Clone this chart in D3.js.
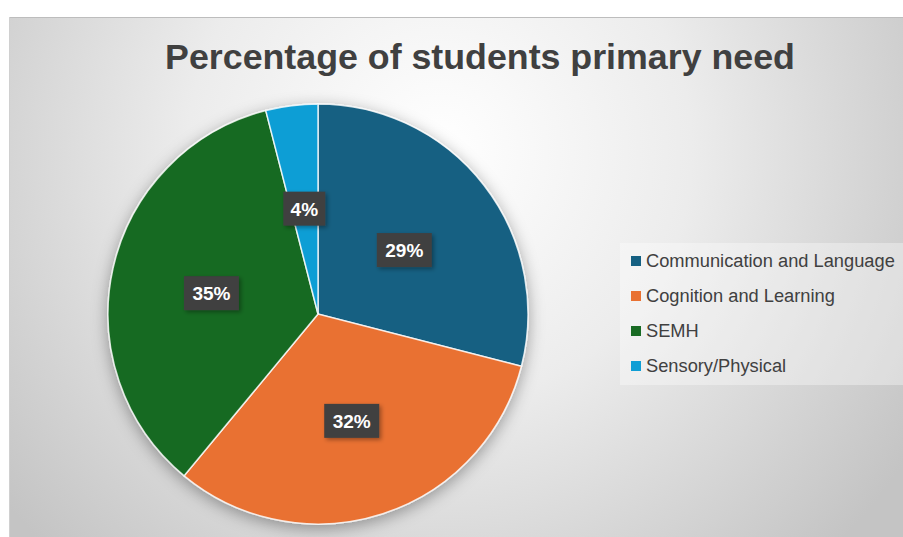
<!DOCTYPE html>
<head>
<meta charset="utf-8">
<title>Percentage of students primary need</title>
<script src="https://cdn.jsdelivr.net/npm/d3@7"></script>
<style>
body { margin: 0; background: #fff; }
text { font-family: "Liberation Sans", Arial, sans-serif; }
</style>
</head>
<body>
<script>
// data
var categories = ["Communication and Language", "Cognition and Learning", "SEMH", "Sensory/Physical"];
var values = [29, 32, 35, 4];
var colours = ["#156082", "#E97132", "#196B24", "#0F9ED5"];
var title = "Percentage of students primary need";

var width = 903, height = 537;
var cx = 318, cy = 314, r = 210;

var svg = d3.select("body").append("svg")
  .attr("width", width)
  .attr("height", height);

var defs = svg.append("defs");
var bg = defs.append("radialGradient").attr("id", "bg")
  .attr("gradientUnits", "userSpaceOnUse")
  .attr("cx", 440).attr("cy", 150).attr("r", 560);
bg.append("stop").attr("offset", "0%").attr("stop-color", "#ffffff");
bg.append("stop").attr("offset", "45%").attr("stop-color", "#ececec");
bg.append("stop").attr("offset", "100%").attr("stop-color", "#c4c4c4");

var sh = defs.append("filter").attr("id", "pieshadow")
  .attr("x", "-20%").attr("y", "-20%").attr("width", "140%").attr("height", "140%");
sh.append("feDropShadow").attr("dx", 0).attr("dy", 4).attr("stdDeviation", 8)
  .attr("flood-color", "#000").attr("flood-opacity", 0.35);

var lsh = defs.append("filter").attr("id", "lblshadow")
  .attr("x", "-30%").attr("y", "-30%").attr("width", "160%").attr("height", "160%");
lsh.append("feDropShadow").attr("dx", 2).attr("dy", 2).attr("stdDeviation", 2)
  .attr("flood-color", "#000").attr("flood-opacity", 0.35);

// chart area
svg.append("rect")
  .attr("x", 9).attr("y", 17)
  .attr("width", width - 9).attr("height", height - 17)
  .attr("fill", "url(#bg)");
svg.append("line")
  .attr("x1", 9).attr("x2", width).attr("y1", 17.5).attr("y2", 17.5)
  .attr("stroke", "#bdbdbd").attr("stroke-width", 1);
svg.append("line")
  .attr("x1", 9.5).attr("x2", 9.5).attr("y1", 17).attr("y2", height)
  .attr("stroke", "#d0d0d0").attr("stroke-width", 1);

// title
var t = svg.append("text")
  .attr("x", 480).attr("y", 69)
  .attr("text-anchor", "middle")
  .attr("fill", "#404040")
  .attr("font-weight", "bold")
  .attr("font-size", 34)
  .text(title);
var tw = t.node().getComputedTextLength();
t.attr("font-size", 34 * 630 / tw);

// pie
var pie = d3.pie().sort(null).value(function(d) { return d; });
var arcs = pie(values);
var arc = d3.arc().innerRadius(0).outerRadius(r);
var labelArc = d3.arc().innerRadius(r * 0.52).outerRadius(r * 0.52);

var g = svg.append("g").attr("transform", "translate(" + cx + "," + cy + ")");
g.append("g").attr("filter", "url(#pieshadow)")
  .selectAll("path")
  .data(arcs).enter().append("path")
  .attr("d", arc)
  .attr("fill", function(d, i) { return colours[i]; })
  .attr("stroke", "#ffffff")
  .attr("stroke-width", 1.5)
  .attr("stroke-opacity", 0.8);

// data labels
var total = d3.sum(values);
var lbl = g.selectAll("g.lbl")
  .data(arcs).enter().append("g")
  .attr("class", "lbl")
  .attr("transform", function(d) { var c = labelArc.centroid(d); return "translate(" + c[0] + "," + (c[1] + 3) + ")"; });
lbl.each(function(d) {
  var sel = d3.select(this);
  var txt = Math.round(d.data / total * 100) + "%";
  var w = txt.length == 2 ? 42 : 55;
  sel.append("rect")
    .attr("x", -w / 2).attr("y", -17)
    .attr("width", w).attr("height", 34)
    .attr("fill", "#3f3f3f")
    .attr("filter", "url(#lblshadow)");
  sel.append("text")
    .attr("text-anchor", "middle")
    .attr("y", 7)
    .attr("fill", "#ffffff")
    .attr("font-weight", "bold")
    .attr("font-size", 19)
    .text(txt);
});

// legend
var leg = svg.append("g");
leg.append("rect")
  .attr("x", 620).attr("y", 243)
  .attr("width", width - 620).attr("height", 142)
  .attr("fill", "#ffffff").attr("fill-opacity", 0.35);
var ly = d3.scalePoint().domain(categories).range([261, 366]);
var item = leg.selectAll("g.item")
  .data(categories).enter().append("g")
  .attr("class", "item")
  .attr("transform", function(d) { return "translate(631," + ly(d) + ")"; });
item.append("rect")
  .attr("x", 0).attr("y", -5)
  .attr("width", 10).attr("height", 10)
  .attr("fill", function(d, i) { return colours[i]; });
var ltext = item.append("text")
  .attr("x", 15).attr("y", 6)
  .attr("fill", "#404040")
  .attr("font-size", 16)
  .text(function(d) { return d; });
// scale legend font so the longest entry spans like the original
var lw = ltext.nodes()[0].getComputedTextLength();
ltext.attr("font-size", 16 * 249 / lw);
</script>
</body>
